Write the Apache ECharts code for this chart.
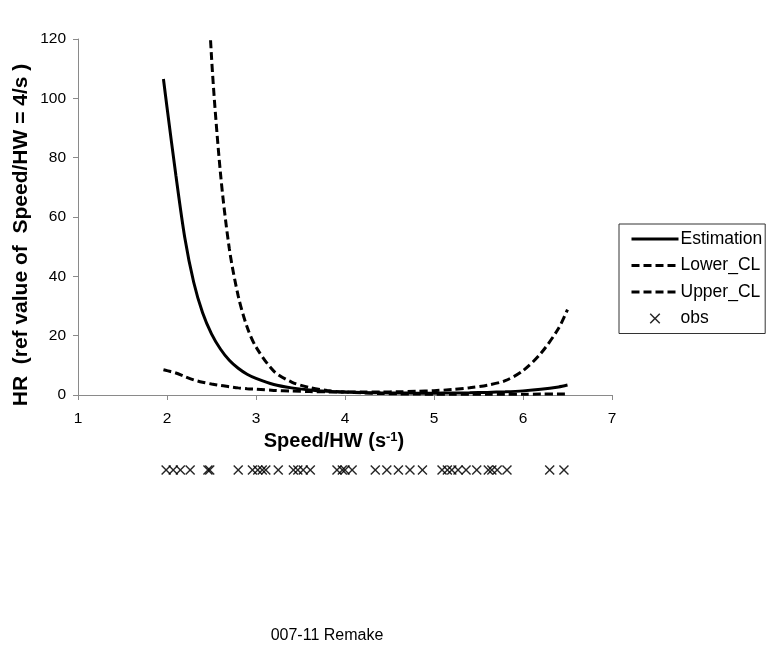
<!DOCTYPE html>
<html>
<head>
<meta charset="utf-8">
<script src="https://cdn.jsdelivr.net/npm/echarts@6/dist/echarts.min.js"></script>
<style>
html,body{margin:0;padding:0;background:#fff;}
#chart{width:767px;height:647px;}
</style>
</head>
<body>
<div id="chart"></div>
<script>
// Speed/HW values at which the curves are read
const speedX = [1.96, 2.0, 2.1, 2.2, 2.3, 2.4, 2.5, 2.6, 2.7, 2.8, 2.9, 3.0, 3.2, 3.4, 3.6, 3.8, 4.0,
  4.2, 4.4, 4.6, 4.8, 5.0, 5.2, 5.4, 5.6, 5.8, 6.0, 6.2, 6.4, 6.5];
const estimation = [106.5, 97, 74, 53, 38, 27.7, 20.6, 15.5, 11.7, 9.0, 7.0, 5.6, 3.54, 2.4, 1.7, 1.27, 1.0,
  0.83, 0.72, 0.65, 0.63, 0.63, 0.67, 0.75, 0.88, 1.08, 1.39, 1.9, 2.71, 3.35];
const lowerCL = [8.5, 8.2, 7.4, 6.2, 5.1, 4.3, 3.7, 3.2, 2.8, 2.4, 2.1, 1.94, 1.55, 1.32, 1.15, 1.05, 1.0,
  0.69, 0.51, 0.39, 0.32, 0.27, 0.25, 0.23, 0.23, 0.24, 0.26, 0.30, 0.35, 0.39];
const upperCL = [1337, 1143, 744, 456, 281, 177, 114, 75, 49.4, 33.4, 22.9, 16.2, 8.06, 4.37, 2.51, 1.54, 1.0,
  0.99, 1.03, 1.09, 1.25, 1.47, 1.83, 2.41, 3.32, 4.83, 8.2, 14.0, 22.5, 28.8];
// observed Speed/HW values (marker row)
const obs = [1.99, 2.07, 2.15, 2.26, 2.46, 2.48, 2.80, 2.96, 3.02, 3.07, 3.11, 3.25, 3.42, 3.47, 3.53, 3.61,
  3.91, 3.97, 4.00, 4.08, 4.34, 4.47, 4.60, 4.73, 4.87, 5.09, 5.15, 5.20, 5.27, 5.36, 5.48, 5.61, 5.65,
  5.71, 5.82, 6.30, 6.46];
const xTicks = {min: 1, max: 7, interval: 1};
const yTicks = {min: 0, max: 120, interval: 20};

const FONT = 'Liberation Sans, Arial, sans-serif';
const crossPath = 'path://M0,1L1,0L5,4L9,0L10,1L6,5L10,9L9,10L5,6L1,10L0,9L4,5Z';
const legendCross = 'path://M-1.6,-1.6L-1.6,-1.6ZM11.6,11.6L11.6,11.6ZM0,1L1,0L5,4L9,0L10,1L6,5L10,9L9,10L5,6L1,10L0,9L4,5Z';
const pair = arr => speedX.map((x, i) => [x, arr[i]]);

const chart = echarts.init(document.getElementById('chart'), null, {renderer: 'canvas'});
const axisCol = '#8a8a8a';
chart.setOption({
  animation: false,
  backgroundColor: '#fff',
  textStyle: {fontFamily: FONT},
  grid: [
    {left: 78, top: 39, width: 534, height: 356},
    {left: 78, top: 462, width: 534, height: 16}
  ],
  xAxis: [
    {type: 'value', gridIndex: 0, min: xTicks.min, max: xTicks.max, interval: xTicks.interval,
     axisLine: {show: true, lineStyle: {color: axisCol, width: 1}},
     axisTick: {show: true, inside: false, length: 5, lineStyle: {color: axisCol}},
     axisLabel: {margin: 16, fontSize: 15.5, color: '#000', fontFamily: FONT},
     splitLine: {show: false}},
    {type: 'value', gridIndex: 1, min: xTicks.min, max: xTicks.max, show: false}
  ],
  yAxis: [
    {type: 'value', gridIndex: 0, min: yTicks.min, max: yTicks.max, interval: yTicks.interval,
     axisLine: {show: true, lineStyle: {color: axisCol, width: 1}},
     axisTick: {show: true, inside: false, length: 5, lineStyle: {color: axisCol}},
     axisLabel: {margin: 12, fontSize: 15.5, color: '#000', fontFamily: FONT},
     splitLine: {show: false}},
    {type: 'value', gridIndex: 1, min: 0, max: 1, show: false}
  ],
  legend: {
    orient: 'vertical', left: 619, top: 224,
    padding: [6, 3, 6, 11],
    itemWidth: 47, itemHeight: 14, itemGap: 8.5,
    borderColor: '#333', borderWidth: 1, borderRadius: 0,
    textStyle: {fontSize: 17.5, color: '#000', fontFamily: FONT, padding: [0, 0, 0, -3]},
    data: [
      {name: 'Estimation', itemStyle: {opacity: 0}, lineStyle: {width: 3, type: 'solid', color: '#000'}},
      {name: 'Lower_CL', itemStyle: {opacity: 0}, lineStyle: {width: 3, type: [8, 4], color: '#000'}},
      {name: 'Upper_CL', itemStyle: {opacity: 0}, lineStyle: {width: 3, type: [8, 4], color: '#000'}},
      {name: 'obs', icon: legendCross, itemStyle: {color: '#000'}}
    ]
  },
  series: [
    {name: 'Estimation', type: 'line', xAxisIndex: 0, yAxisIndex: 0, data: pair(estimation),
     smooth: 0.3, symbol: 'none', clip: true, color: '#000',
     lineStyle: {color: '#000', width: 3, type: 'solid'}},
    {name: 'Lower_CL', type: 'line', xAxisIndex: 0, yAxisIndex: 0, data: pair(lowerCL),
     smooth: 0.3, symbol: 'none', clip: true, color: '#000',
     lineStyle: {color: '#000', width: 3, type: [8, 4]}},
    {name: 'Upper_CL', type: 'line', xAxisIndex: 0, yAxisIndex: 0, data: pair(upperCL),
     smooth: 0.3, symbol: 'none', clip: true, color: '#000',
     lineStyle: {color: '#000', width: 3, type: [8, 4]}},
    {name: 'obs', type: 'scatter', xAxisIndex: 1, yAxisIndex: 1,
     data: obs.map(v => [v, 0.5]), symbol: crossPath, symbolSize: 10,
     itemStyle: {color: '#000', opacity: 0.85}}
  ],
  graphic: [
    {type: 'text', x: 21, y: 235, rotation: Math.PI / 2,
     style: {text: 'HR  (ref value of  Speed/HW = 4/s )', font: 'bold 21px ' + FONT, fill: '#000',
             textAlign: 'center', textVerticalAlign: 'middle'}},
    {type: 'text', x: 334, y: 441,
     style: {
       rich: {
         a: {font: 'bold 20px ' + FONT, fill: '#000'},
         s: {font: 'bold 13px ' + FONT, fill: '#000', verticalAlign: 'top', padding: [0, 0, 8, 0]}
       },
       text: '{a|Speed/HW (s}{s|-1}{a|)}',
       textAlign: 'center', textVerticalAlign: 'middle'
     }},
    {type: 'text', x: 327, y: 636,
     style: {text: '007-11 Remake', font: '16px ' + FONT, fill: '#000',
             textAlign: 'center', textVerticalAlign: 'middle'}}
  ]
});
</script>
</body>
</html>
